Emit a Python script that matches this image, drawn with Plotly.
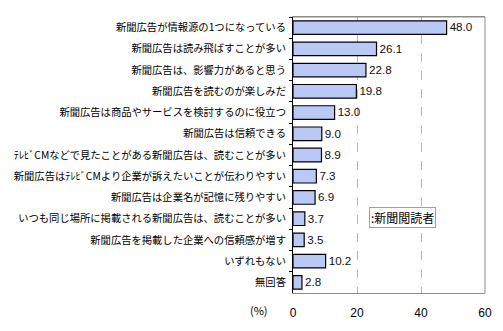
import plotly.graph_objects as go

categories = [
    "新聞広告が情報源の1つになっている",
    "新聞広告は読み飛ばすことが多い",
    "新聞広告は、影響力があると思う",
    "新聞広告を読むのが楽しみだ",
    "新聞広告は商品やサービスを検討するのに役立つ",
    "新聞広告は信頼できる",
    "ﾃﾚﾋﾞCMなどで見たことがある新聞広告は、読むことが多い",
    "新聞広告はﾃﾚﾋﾞCMより企業が訴えたいことが伝わりやすい",
    "新聞広告は企業名が記憶に残りやすい",
    "いつも同じ場所に掲載される新聞広告は、読むことが多い",
    "新聞広告を掲載した企業への信頼感が増す",
    "いずれもない",
    "無回答",
]
values = [48.0, 26.1, 22.8, 19.8, 13.0, 9.0, 8.9, 7.3, 6.9, 3.7, 3.5, 10.2, 2.8]
x_ticks = [0, 20, 40, 60]
series_name = "新聞閲読者"

FONT = "Noto Sans CJK JP"
NUMFONT = "Liberation Sans"

fig = go.Figure()
fig.add_trace(go.Bar(
    y=categories,
    x=values,
    orientation="h",
    name=series_name,
    marker=dict(color="#bac8f6", line=dict(color="#000000", width=1.2)),
    width=0.64,
    text=[f"{v:.1f}" for v in values],
    textposition="outside",
    textfont=dict(family=NUMFONT, size=12, color="#111111"),
    cliponaxis=False,
))

fig.update_layout(
    width=503, height=331,
    margin=dict(l=293, r=11, t=17, b=25),
    paper_bgcolor="white",
    plot_bgcolor="white",
    showlegend=False,
    font=dict(family=FONT, size=11, color="#000000"),
    xaxis=dict(
        range=[0, 60],
        tickvals=x_ticks,
        ticktext=[str(t) for t in x_ticks],
        showgrid=True,
        gridcolor="#b8b8b8",
        griddash="dash",
        gridwidth=1,
        zeroline=False,
        showline=True,
        linecolor="#8c8c8c",
        mirror=True,
        ticks="",
        ticklabelstandoff=9,
        tickfont=dict(family=NUMFONT, size=12, color="#000000"),
        fixedrange=True,
    ),
    yaxis=dict(
        autorange="reversed",
        showline=True,
        linecolor="#000000",
        linewidth=1,
        mirror=False,
        ticks="outside",
        ticklen=3,
        tickcolor="#000000",
        tickson="boundaries",
        ticklabelstandoff=4,
        tickfont=dict(family=FONT, size=10.3, color="#000000"),
        showgrid=False,
        automargin=False,
    ),
    annotations=[
        dict(
            text="(%)", xref="paper", yref="paper",
            x=-0.176, y=-0.06, xanchor="center", yanchor="middle",
            showarrow=False, font=dict(family=FONT, size=11, color="#000000"),
        ),
        dict(
            text=":" + series_name, xref="x", yref="paper",
            x=34.1, y=0.273, xanchor="center", yanchor="middle",
            showarrow=False, font=dict(family=FONT, size=12, color="#000000"),
            bordercolor="#a0a0a0", borderwidth=1, borderpad=1, bgcolor="white",
        ),
    ],
)

fig.add_shape(type="line", xref="paper", yref="paper", x0=1, x1=1, y0=0, y1=1,
              line=dict(color="#8c8c8c", width=1))
fig.add_shape(type="line", xref="paper", yref="paper", x0=0, x1=1, y0=1, y1=1,
              line=dict(color="#8c8c8c", width=1))

fig.write_html("out.html")
